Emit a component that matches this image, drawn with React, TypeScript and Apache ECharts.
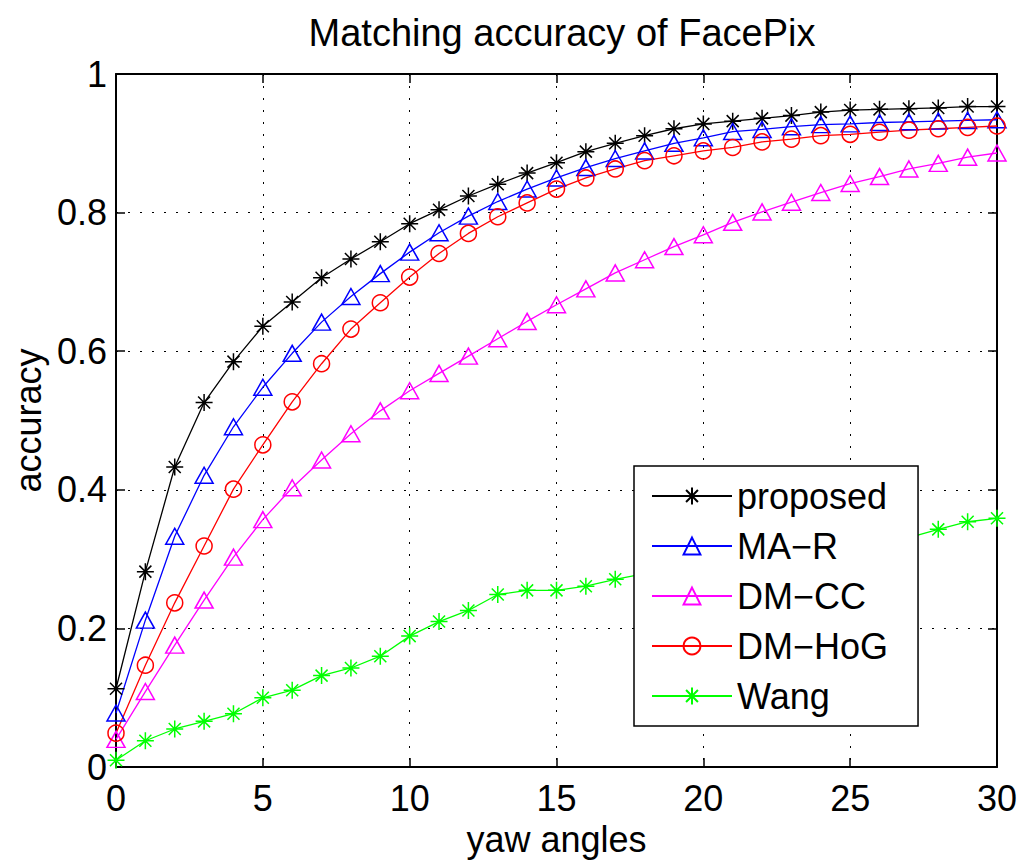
import React, { useEffect, useRef } from "react";
import * as echarts from "echarts";

const yawAngles = [0, 1, 2, 3, 4, 5, 6, 7, 8, 9, 10, 11, 12, 13, 14, 15, 16, 17, 18, 19, 20, 21, 22, 23, 24, 25, 26, 27, 28, 29, 30];

const proposed = [0.113, 0.282, 0.433, 0.526, 0.585, 0.636, 0.671, 0.706, 0.733, 0.758, 0.784, 0.804, 0.824, 0.841, 0.857, 0.872, 0.888, 0.900, 0.911, 0.921, 0.928, 0.932, 0.936, 0.940, 0.945, 0.948, 0.949, 0.950, 0.951, 0.953, 0.953];
const maR = [0.078, 0.212, 0.333, 0.421, 0.491, 0.548, 0.597, 0.642, 0.679, 0.712, 0.743, 0.771, 0.795, 0.816, 0.834, 0.850, 0.865, 0.878, 0.889, 0.900, 0.908, 0.917, 0.920, 0.924, 0.927, 0.928, 0.930, 0.931, 0.932, 0.933, 0.934];
const dmCC = [0.040, 0.109, 0.176, 0.241, 0.303, 0.357, 0.403, 0.443, 0.481, 0.514, 0.543, 0.568, 0.593, 0.618, 0.643, 0.667, 0.690, 0.713, 0.732, 0.751, 0.768, 0.786, 0.801, 0.815, 0.829, 0.842, 0.852, 0.863, 0.871, 0.880, 0.886];
const dmHoG = [0.049, 0.147, 0.237, 0.319, 0.401, 0.465, 0.527, 0.582, 0.632, 0.670, 0.707, 0.741, 0.770, 0.794, 0.814, 0.834, 0.850, 0.863, 0.875, 0.882, 0.889, 0.894, 0.902, 0.906, 0.911, 0.913, 0.916, 0.919, 0.921, 0.923, 0.925];
const wang = [0.010, 0.038, 0.055, 0.066, 0.077, 0.100, 0.111, 0.132, 0.143, 0.160, 0.189, 0.210, 0.226, 0.249, 0.255, 0.255, 0.261, 0.271, 0.279, 0.287, 0.294, 0.301, 0.307, 0.312, 0.317, 0.321, 0.326, 0.331, 0.343, 0.354, 0.359];

const seriesNames = ["proposed", "MA\u2212R", "DM\u2212CC", "DM\u2212HoG", "Wang"];
const xTicks = { min: 0, max: 30, interval: 5 };
const yTicks = { min: 0, max: 1, interval: 0.2 };

const FONT = '"Liberation Sans", Arial, Helvetica, sans-serif';
const STAR = "path://M10,0L10,20M0,10L20,10M2.93,2.93L17.07,17.07M2.93,17.07L17.07,2.93";

function makeSeries(name: string, values: number[], color: string, symbol: string, size: any) {
  return {
    name,
    type: "line",
    data: yawAngles.map((x, i) => [x, values[i]]),
    symbol,
    symbolSize: size,
    showSymbol: true,
    silent: true,
    clip: false,
    lineStyle: { color, width: 1.3 },
    itemStyle: { color: "none", borderColor: color, borderWidth: 1.5 },
    emphasis: { disabled: true },
    z: 2,
  };
}

export default function App() {
  const ref = useRef<HTMLDivElement>(null);
  useEffect(() => {
    if (!ref.current) return;
    const chart = echarts.init(ref.current, undefined, { renderer: "svg" });
    const axisLine = { show: true, onZero: false, lineStyle: { color: "#000", width: 2 } };
    const axisTick = { show: true, inside: true, length: 9, lineStyle: { color: "#000", width: 1.5 } };
    const grid = { show: true, lineStyle: { color: "#000", width: 1, type: [2, 10] } };
    const labelStyle = { color: "#000", fontSize: 36, fontFamily: FONT };
    chart.setOption({
      animation: false,
      backgroundColor: "#fff",
      title: {
        text: "Matching accuracy of FacePix",
        left: 557,
        top: 9,
        textAlign: "center",
        textStyle: { color: "#000", fontSize: 38, fontWeight: "normal", fontFamily: FONT },
      },
      grid: { left: 116, right: 26, top: 74, bottom: 94, containLabel: false },
      xAxis: [
        {
          type: "value",
          ...xTicks,
          position: "bottom",
          axisLine,
          axisTick,
          splitLine: grid,
          axisLabel: { ...labelStyle, margin: 13 },
          name: "yaw angles",
          nameLocation: "middle",
          nameGap: 51,
          nameTextStyle: { ...labelStyle },
        },
        {
          type: "value",
          ...xTicks,
          position: "top",
          axisLine,
          axisTick,
          splitLine: { show: false },
          axisLabel: { show: false },
        },
      ],
      yAxis: [
        {
          type: "value",
          ...yTicks,
          position: "left",
          axisLine,
          axisTick,
          splitLine: grid,
          axisLabel: { ...labelStyle, margin: 9 },
          name: "accuracy",
          nameLocation: "middle",
          nameGap: 68,
          nameRotate: 90,
          nameTextStyle: { ...labelStyle },
        },
        {
          type: "value",
          ...yTicks,
          position: "right",
          axisLine,
          axisTick,
          splitLine: { show: false },
          axisLabel: { show: false },
        },
      ],
      legend: {
        orient: "vertical",
        left: 634,
        top: 466,
        data: seriesNames,
        itemWidth: 80,
        itemHeight: 21,
        itemGap: 10,
        padding: [10, 30, 10, 17],
        backgroundColor: "#fff",
        borderColor: "#000",
        borderWidth: 1.5,
        selectedMode: false,
        z: 10,
        textStyle: { color: "#000", fontSize: 36, fontFamily: FONT, lineHeight: 40 },
      },
      series: [
        makeSeries(seriesNames[0], proposed, "#000000", STAR, 17),
        makeSeries(seriesNames[1], maR, "#0000ff", "triangle", [18, 16]),
        makeSeries(seriesNames[2], dmCC, "#ff00ff", "triangle", [18, 16]),
        makeSeries(seriesNames[3], dmHoG, "#ff0000", "circle", 16),
        makeSeries(seriesNames[4], wang, "#00ff00", STAR, 17),
      ],
    });
    return () => chart.dispose();
  }, []);
  return (
    <div
      ref={ref}
      style={{ position: "fixed", left: 0, top: 0, width: 1023, height: 862 }}
    />
  );
}
